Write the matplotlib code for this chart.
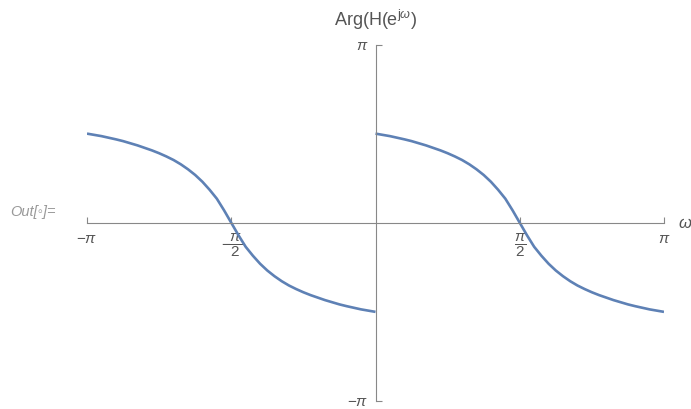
import numpy as np
import matplotlib
matplotlib.use("Agg")
import matplotlib.pyplot as plt

plt.rcParams['font.family'] = ['Liberation Sans', 'DejaVu Sans']
plt.rcParams['mathtext.fontset'] = 'custom'
plt.rcParams['mathtext.rm'] = 'Liberation Sans'
plt.rcParams['mathtext.it'] = 'Liberation Sans:italic'
plt.rcParams['mathtext.bf'] = 'Liberation Sans:bold'

# phase response, omega and phase both in units of pi
omega_right = [0.000, 0.025, 0.050, 0.075, 0.100, 0.125, 0.150, 0.175, 0.200, 0.225,
               0.250, 0.275, 0.300, 0.325, 0.350, 0.375, 0.400, 0.425, 0.450, 0.475,
               0.500, 0.525, 0.550, 0.575, 0.600, 0.625, 0.650, 0.675, 0.700, 0.725,
               0.750, 0.775, 0.800, 0.825, 0.850, 0.875, 0.900, 0.925, 0.950, 0.975, 1.000]
phase_right = [0.500, 0.493, 0.486, 0.477, 0.468, 0.458, 0.446, 0.434, 0.420, 0.406,
               0.390, 0.372, 0.352, 0.328, 0.300, 0.268, 0.230, 0.185, 0.135, 0.070,
               0.000, -0.070, -0.135, -0.185, -0.230, -0.268, -0.300, -0.328, -0.352, -0.372,
               -0.390, -0.406, -0.420, -0.434, -0.446, -0.458, -0.468, -0.477, -0.486, -0.493, -0.500]
omega_left = [-1.000, -0.975, -0.950, -0.925, -0.900, -0.875, -0.850, -0.825, -0.800, -0.775,
              -0.750, -0.725, -0.700, -0.675, -0.650, -0.625, -0.600, -0.575, -0.550, -0.525,
              -0.500, -0.475, -0.450, -0.425, -0.400, -0.375, -0.350, -0.325, -0.300, -0.275,
              -0.250, -0.225, -0.200, -0.175, -0.150, -0.125, -0.100, -0.075, -0.050, -0.025, 0.000]
phase_left = [0.500, 0.493, 0.486, 0.477, 0.468, 0.458, 0.446, 0.434, 0.420, 0.406,
              0.390, 0.372, 0.352, 0.328, 0.300, 0.268, 0.230, 0.185, 0.135, 0.070,
              0.000, -0.070, -0.135, -0.185, -0.230, -0.268, -0.300, -0.328, -0.352, -0.372,
              -0.390, -0.406, -0.420, -0.434, -0.446, -0.458, -0.468, -0.477, -0.486, -0.493, -0.500]

x_ticks = [-1.0, -0.5, 0.5, 1.0]
x_labels = [r'$-\pi$', r'$-\dfrac{\pi}{2}$', r'$\dfrac{\pi}{2}$', r'$\pi$']
y_ticks = [-1.0, 1.0]
y_labels = [r'$-\pi$', r'$\pi$']

line_color = '#5e81b5'
axis_color = '#888888'
text_color = '#555555'

W, H = 691, 409
fig = plt.figure(figsize=(W / 100, H / 100), dpi=100)
left, right, top, bottom = 87, 664, 44.5, 401
ax = fig.add_axes([left / W, 1 - bottom / H, (right - left) / W, (bottom - top) / H])

for om, ph in [(omega_right, phase_right), (omega_left, phase_left)]:
    ax.plot(np.pi * np.array(om), np.pi * np.array(ph), color=line_color, lw=1.9,
            solid_joinstyle='round', solid_capstyle='butt')

ax.set_xlim(-np.pi, np.pi)
ax.set_ylim(-np.pi, np.pi)
ax.spines['top'].set_visible(False)
ax.spines['right'].set_visible(False)
ax.spines['bottom'].set_position(('data', 0))
ax.spines['left'].set_position(('data', 0))
for s in ('bottom', 'left'):
    ax.spines[s].set_color(axis_color)
    ax.spines[s].set_linewidth(0.8)

ax.set_xticks(np.pi * np.array(x_ticks))
ax.set_xticklabels(x_labels, fontsize=11, color=text_color)
ax.set_yticks(np.pi * np.array(y_ticks))
ax.set_yticklabels(y_labels, fontsize=11, color=text_color)
ax.tick_params(direction='in', length=4, width=0.8, color=axis_color)
ax.tick_params(axis='x', pad=7)
ax.tick_params(axis='y', pad=5)
ax.patch.set_visible(False)

fig.text(376 / W, 1 - 20 / H, r'Arg(H(e$^{\mathrm{j}\omega}$)', ha='center', va='center',
         fontsize=13, color=text_color)
fig.text(678 / W, 1 - 224 / H, r'$\omega$', ha='left', va='center', fontsize=12, color=text_color)
fig.text(10 / W, 1 - 212 / H, 'Out[\u25e6]=', ha='left', va='center', fontsize=10.5,
         style='italic', color='#999999')

fig.savefig('out.png', dpi=100)
